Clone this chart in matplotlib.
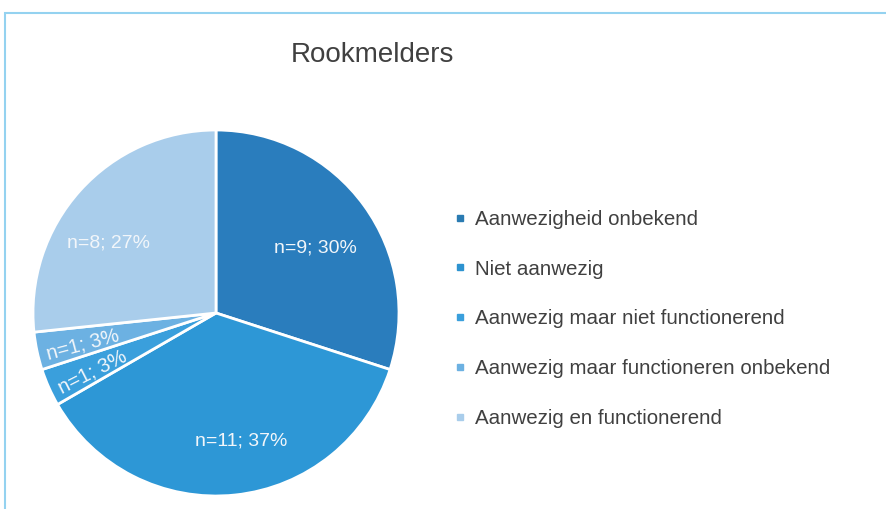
import matplotlib
matplotlib.use("Agg")
import matplotlib.pyplot as plt
import numpy as np
from matplotlib.lines import Line2D
from matplotlib.patches import Rectangle

plt.rcParams['font.family'] = ['Liberation Sans', 'DejaVu Sans']

title = "Rookmelders"
categories = ["Aanwezigheid onbekend", "Niet aanwezig", "Aanwezig maar niet functionerend",
              "Aanwezig maar functioneren onbekend", "Aanwezig en functionerend"]
counts = [9, 11, 1, 1, 8]
percents = [30, 37, 3, 3, 27]
colors = ["#2a7dbd", "#2d97d6", "#3a9fdc", "#6cb1e2", "#a9cdeb"]
legend_colors = ["#2a7bb2", "#2d93d0", "#3a9fdc", "#6cb1e2", "#a9cdeb"]

W, H = 887, 509
fig = plt.figure(figsize=(W / 100, H / 100), dpi=100)

# frame
fig.patches.append(Rectangle((5 / W, -0.05), 1.1, 1 - 13 / H + 0.05, transform=fig.transFigure,
                             fill=False, edgecolor="#94d2f0", linewidth=1.5, zorder=0))

cx, cy, R = 216, 313, 183
ax = fig.add_axes([(cx - R) / W, (H - cy - R) / H, 2 * R / W, 2 * R / H])
wedges, _ = ax.pie(counts, colors=colors, startangle=90, counterclock=False, radius=1,
                   wedgeprops=dict(edgecolor="white", linewidth=2.0))
ax.set_xlim(-1, 1)
ax.set_ylim(-1, 1)
ax.set_aspect('equal')
ax.axis('off')

dists = [0.65, 0.71, 0.75, 0.75, 0.70]
ang_shift = [-3, 5, 1.5, 1.5, 9]
for w, n, p, d, s in zip(wedges, counts, percents, dists, ang_shift):
    mid = (w.theta1 + w.theta2) / 2
    ang = mid + s
    x, y = d * np.cos(np.radians(ang)), d * np.sin(np.radians(ang))
    rot = 0
    fs = 14
    if p < 5:
        rot = mid - 180 + 3
        fs = 14.5
    ax.text(x, y, f"n={n}; {p}%", ha='center', va='center', fontsize=fs, color="#f2f6fa",
            rotation=rot, rotation_mode='anchor')

fig.text(372 / W, 1 - 55 / H, title, ha='center', va='center', fontsize=20, color="#404040")

handles = [Line2D([0], [0], marker='s', linestyle='none', markersize=5,
                  markerfacecolor=c, markeredgecolor=c) for c in legend_colors]
fig.legend(handles, categories, loc='center left', bbox_to_anchor=(455 / W, 1 - 319 / H),
           frameon=False, fontsize=14.8, labelspacing=1.5, handlelength=0.5,
           handletextpad=0.45, borderpad=0, borderaxespad=0, labelcolor="#404040")

fig.savefig("out.png", dpi=100)
